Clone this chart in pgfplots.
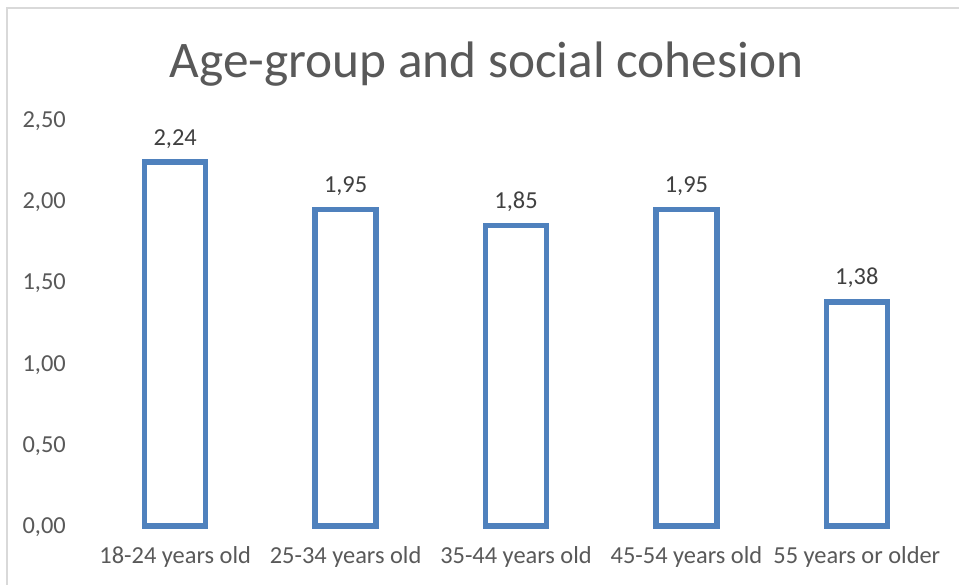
\documentclass[border=0pt]{standalone}
\usepackage{fontspec}
\setmainfont{Carlito}
\usepackage{pgfplots}
\pgfplotsset{compat=1.18}
\definecolor{barblue}{HTML}{4F81BD}
\definecolor{ticktext}{HTML}{595959}
\definecolor{valtext}{HTML}{404040}
\definecolor{chartframe}{HTML}{D9D9D9}
\begin{document}
\begin{tikzpicture}[x=1bp,y=1bp]
\path[use as bounding box] (0,0) rectangle (959,585);
\fill[white] (0,0) rectangle (959,585);
\draw[chartframe, line width=2bp] (7,0) -- (7,577) -- (959,577);
\node[ticktext, anchor=base, inner sep=0pt, font=\fontsize{51.5}{60}\selectfont] at (486.5,507) {Age-group and social cohesion};
\begin{axis}[
  at={(90bp,59bp)}, anchor=south west,
  scale only axis, width=852bp, height=406bp,
  xmin=-0.5, xmax=4.5, ymin=0, ymax=2.5,
  axis line style={draw=none},
  major tick length=0pt,
  xtick={0,1,2,3,4},
  xticklabels={18-24 years old,25-34 years old,35-44 years old,45-54 years old,55 years or older},
  ytick={0,0.5,1,1.5,2,2.5},
  /pgf/number format/.cd, use comma, fixed, fixed zerofill, precision=2, assume math mode=true,
  /pgfplots/.cd,
  tick label style={ticktext, font=\fontsize{24.5}{29}\selectfont},
  xticklabel style={anchor=base, yshift=-38bp},
  yticklabel style={anchor=base east, xshift=-24bp, yshift=-7.5bp, inner sep=0pt},
  clip=false,
  ybar, bar width=61bp,
  nodes near coords,
  nodes near coords style={valtext, font=\fontsize{24.5}{29}\selectfont, anchor=base, inner sep=0pt, yshift=17bp},
]
\addplot[draw=barblue, fill=white, line width=5.5bp] coordinates {(0,2.24) (1,1.95) (2,1.85) (3,1.95) (4,1.38)};
\end{axis}
\end{tikzpicture}
\end{document}
